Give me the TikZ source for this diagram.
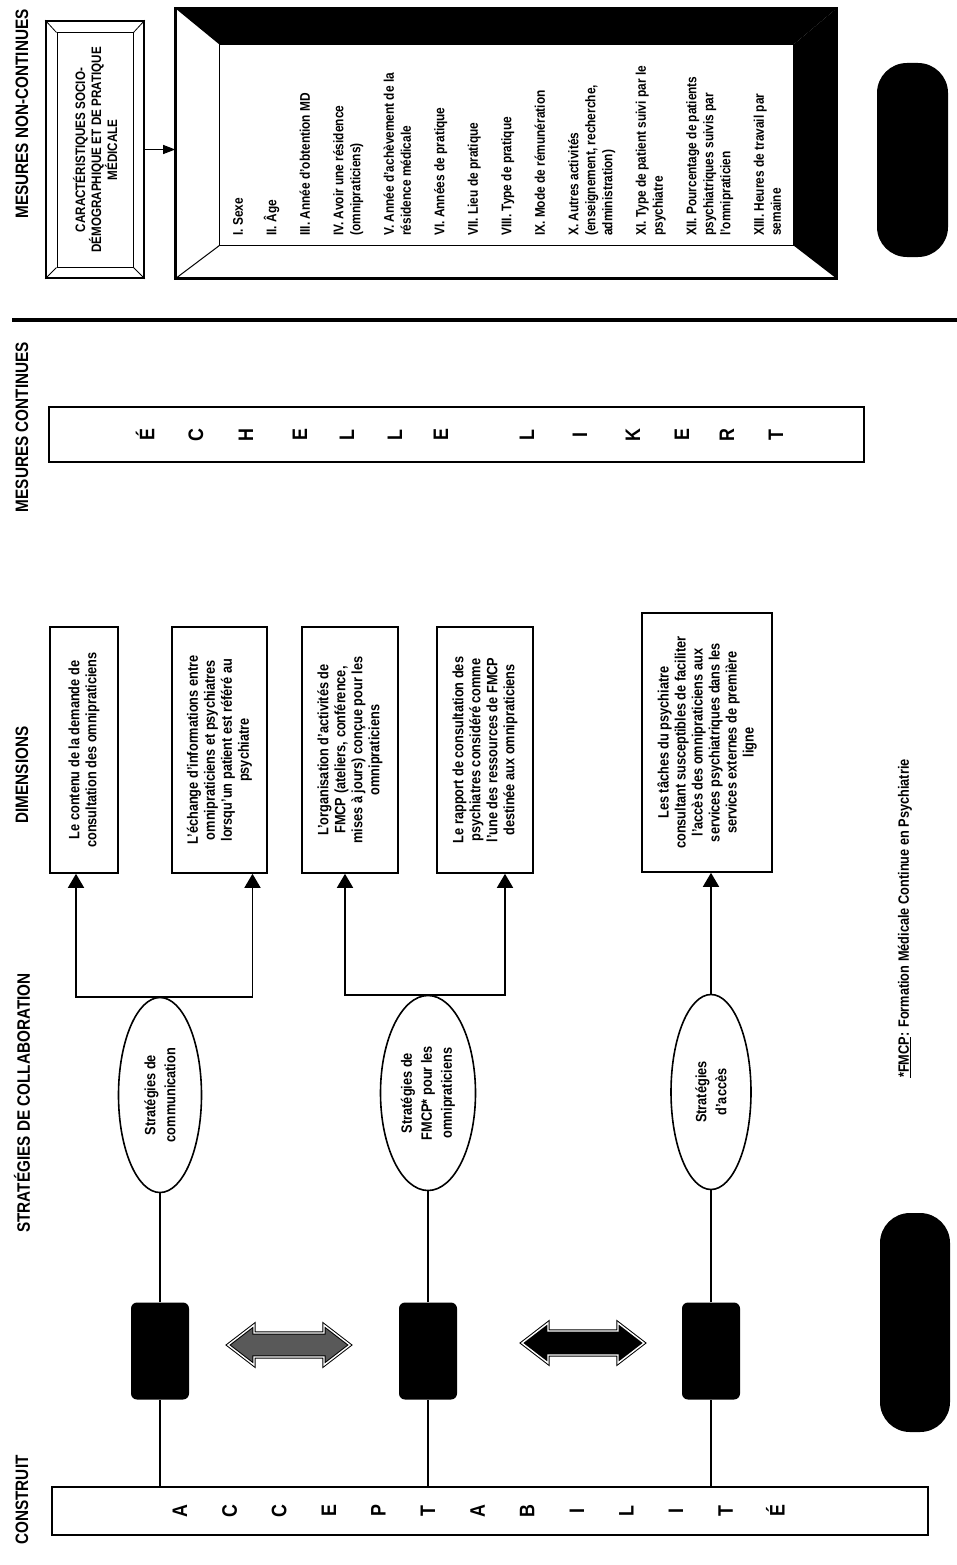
\documentclass[tikz,border=0pt]{standalone}
\usepackage{fontspec}
\setmainfont{Liberation Sans}[FakeStretch=0.85]
\usetikzlibrary{shapes.geometric,arrows.meta}
\newcommand{\itemgap}{\\[16.5pt]}
\newcommand{\dblarrow}[3]{\filldraw[fill=#3,draw=black,line width=1pt,double=white,double distance=1.4pt]
  (#1,#2) ++(-61,0) --++(26,-20) --++(0,8) --++(70,0) --++(0,-8) --++(26,20) --++(-26,20) --++(0,-8) --++(-70,0) --++(0,8) -- cycle;}

\begin{document}
\begin{tikzpicture}[x=1pt,y=-1pt,
  titre/.style={rotate=90,font=\fontsize{18}{21}\selectfont\bfseries},
  lettre/.style={rotate=90,font=\fontsize{21}{21}\selectfont\bfseries},
  cadre/.style={draw,line width=1.6pt,inner sep=0},
  etiq/.style={fill=black,rounded corners=6pt,minimum width=58pt,minimum height=97pt},
  strat/.style={ellipse,draw,line width=1.6pt,rotate=90,minimum width=195pt,inner sep=0,align=center,font=\fontsize{15}{20}\selectfont\bfseries},
  dim/.style={draw,fill=white,line width=1.6pt,rotate=90,minimum width=246pt,inner sep=0,align=center,font=\fontsize{15}{17}\selectfont\bfseries},
  texte/.style={rotate=90,inner sep=0,font=\fontsize{14}{17}\selectfont\bfseries},
  lien/.style={line width=1.6pt},
  fleche/.style={line width=1.6pt,-{Triangle[length=14pt,width=16pt]}},
  petite/.style={line width=1pt,-{Triangle[length=12pt,width=9pt]}},
  tache/.style={fill=black,rounded corners=30pt}]
\fill[white] (0,0) rectangle (957,1565);
\useasboundingbox (0,0) rectangle (957,1565);

% column titles
\node[titre] (tconst) at (22,1500) {CONSTRUIT};
\node[titre] (tstrat) at (22,1103) {STRATÉGIES DE COLLABORATION};
\node[titre] (tdim) at (22,775) {DIMENSIONS};
\node[titre] (tcont) at (22,427) {MESURES CONTINUES};
\node[titre] (tnon) at (22,114) {MESURES NON-CONTINUES};

% construit
\node[cadre,minimum width=876pt,minimum height=48pt] (accept) at (490,1511) {};
\foreach \l [count=\i from 0] in {A,C,C,E,P,T,A,B,I,L,I,T,É}
  \node[lettre] at (180+49.6*\i,1511) {\l};

% strategies
\foreach \n/\x in {1/160,2/428,3/711}
  \node[etiq] (lab\n) at (\x,1351) {};
\node[strat,minimum height=83pt] (strat1) at (160,1095) {Stratégies de\\communication};
\node[strat,minimum height=95pt] (strat2) at (428,1093) {Stratégies de\\FMCP* pour les\\omnipraticiens};
\node[strat,minimum height=80pt] (strat3) at (711,1092) {Stratégies\\d'accès};
\foreach \n in {1,2,3}{
  \draw[lien] (lab\n |- accept.north) -- (lab\n);
  \draw[lien] (lab\n) -- (strat\n);
}
\dblarrow{289}{1345}{black!65}
\dblarrow{583}{1343}{black}

% dimensions
\node[dim,minimum height=68pt] (dim1) at (84,750) {Le contenu de la demande de\\consultation des omnipraticiens};
\node[dim,minimum height=95pt] (dim2) at (219.5,750) {L'échange d'informations entre\\omnipraticiens et psychiatres\\lorsqu'un patient est référé au\\psychiatre};
\node[dim,minimum height=96pt] (dim3) at (350,750) {L'organisation d'activités de\\FMCP (ateliers, conférence,\\mises à jours) conçue pour les\\omnipraticiens};
\node[dim,minimum height=96pt] (dim4) at (485,750) {Le rapport de consultation des\\psychiatres considéré comme\\l'une des ressources de FMCP\\destinée aux omnipraticiens};
\node[dim,minimum width=259pt,minimum height=130pt] (dim5) at (707,742.5) {Les tâches du psychiatre\\consultant susceptibles de faciliter\\l'accès des omnipraticiens aux\\services psychiatriques dans les\\services externes de première\\ligne};
\draw[fleche] (strat1.east) -| ([xshift=-8pt]dim1.west);
\draw[fleche] (strat1.east) -| ([xshift=33pt]dim2.west);
\draw[fleche] (strat2.east) -| ([xshift=-5pt]dim3.west);
\draw[fleche] (strat2.east) -| ([xshift=20pt]dim4.west);
\draw[fleche] (strat3.east) -- (strat3.east |- dim5.west);

% mesures continues
\node[cadre,minimum width=815pt,minimum height=55pt] (likert) at (456.5,434.5) {};
\foreach \x/\l in {145/É,196/C,246/H,300/E,347/L,395/L,441/E,527/L,580/I,633/K,682/E,727/R,776/T}
  \node[lettre] at (\x,435) {\l};
\draw[line width=4pt] (12,320) -- (957,320);

% mesures non-continues
\node[cadre,fill=white,minimum width=98pt,minimum height=257pt] (carac) at (95,149.5) {};
\node[draw,line width=1pt,minimum width=76pt,minimum height=234pt] (caracin) at (95,150) {};
\foreach \c in {north west,north east,south west,south east}
  \draw[line width=0.8pt] (carac.\c) -- (caracin.\c);
\node[texte,align=center,font=\fontsize{13.7}{16}\selectfont\bfseries] (caractxt) at (caracin) {CARACTÉRISTIQUES SOCIO-\\DÉMOGRAPHIQUE ET DE PRATIQUE\\MÉDICALE};

\node[cadre,fill=white,minimum width=660pt,minimum height=269pt] (liste) at (506,143.5) {};
\node[inner sep=0,minimum width=573pt,minimum height=200pt] (listein) at (506.5,145) {};
\fill (liste.north west) -- (liste.north east) -- (listein.north east) -- (listein.north west) -- cycle;
\fill (liste.north east) -- (liste.south east) -- (listein.south east) -- (listein.north east) -- cycle;
\draw[line width=1pt] (listein.north west) rectangle (listein.south east);
\draw[line width=1pt] (liste.south west) -- (listein.south west);
\draw[line width=1.6pt] (liste.north west) rectangle (liste.south east);
\draw[petite] (carac.east) -- (carac.east -| liste.west);
\node[texte,anchor=north west,align=left] (items) at (233,236) {I. Sexe\itemgap
II. Âge\itemgap
III. Année d'obtention MD\itemgap
IV. Avoir une résidence\\(omnipraticiens)\itemgap
V. Année d'achèvement de la\\résidence médicale\itemgap
VI. Années de pratique\itemgap
VII. Lieu de pratique\itemgap
VIII. Type de pratique\itemgap
IX. Mode de rémunération\itemgap
X. Autres activités\\(enseignement, recherche,\\administration)\itemgap
XI. Type de patient suivi par le\\psychiatre\itemgap
XII. Pourcentage de patients\\psychiatriques suivis par\\l'omnipraticien\itemgap
XIII. Heures de travail par\\semaine};

% blots and footnote
\node[tache,minimum width=71pt,minimum height=194pt] (tache1) at (912.5,160) {};
\node[tache,minimum width=70pt,minimum height=219pt] (tache2) at (915,1322.5) {};
\node[texte,anchor=west,font=\fontsize{15}{17}\selectfont\bfseries] (note) at (905,1078) {\underline{*FMCP}: Formation Médicale Continue en Psychiatrie};
\end{tikzpicture}
\end{document}
